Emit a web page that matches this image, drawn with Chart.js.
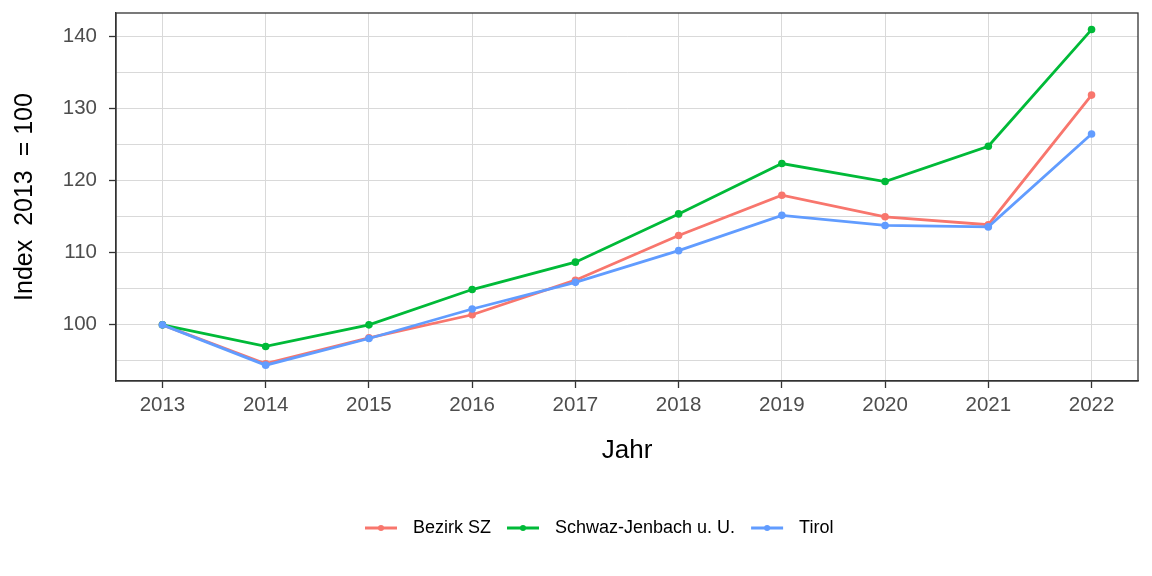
<!DOCTYPE html>
<html>
<head>
<meta charset="utf-8">
<script src="https://cdn.jsdelivr.net/npm/chart.js@4/dist/chart.umd.min.js"></script>
<style>
    html, body { margin: 0; padding: 0; background: #fff; }
    #wrap { width: 1152px; height: 576px; }
</style>
</head>
<body>
<div id="wrap"><canvas id="myChart" width="1152" height="576"></canvas></div>
<script>
const years = [2013, 2014, 2015, 2016, 2017, 2018, 2019, 2020, 2021, 2022]
const bezirkSZ = [100, 94.6, 98.2, 101.4, 106.2, 112.4, 118.0, 115.0, 113.9, 131.9]
const schwazJenbach = [100, 97.0, 100.0, 104.9, 108.7, 115.4, 122.4, 119.9, 124.8, 141.0]
const tirol = [100, 94.4, 98.1, 102.2, 105.9, 110.3, 115.2, 113.8, 113.6, 126.5]
const yTicks = [95, 100, 105, 110, 115, 120, 125, 130, 135, 140]
const seriesNames = ['Bezirk SZ', 'Schwaz-Jenbach u. U.', 'Tirol']
const seriesColors = ['#F8766D', '#00BA38', '#619CFF']

const FONT = '"Liberation Sans", Arial, sans-serif'

const toPoints = (values) => values.map((v, i) => ({ x: years[i], y: v }))

const lineStyle = {
    fill: false,
    tension: 0,
    borderWidth: 2.8,
    pointRadius: 3.8,
    pointBorderWidth: 0,
    pointHoverRadius: 3.8
}

const panelBorder = {
    id: 'panelBorder',
    afterDatasetsDraw(chart) {
        const { ctx, chartArea: a } = chart
        ctx.save()
        ctx.strokeStyle = '#333333'
        ctx.lineWidth = 1.3
        ctx.strokeRect(a.left, a.top, a.right - a.left, a.bottom - a.top)
        ctx.restore()
    }
}

// legend drawn below the axis title, like the ggplot bottom legend
const bottomLegend = {
    id: 'bottomLegend',
    afterDraw(chart) {
        const ctx = chart.ctx
        const y = 528
        let x = 365
        ctx.save()
        ctx.font = '18px ' + FONT
        ctx.textBaseline = 'middle'
        ctx.textAlign = 'left'
        seriesNames.forEach((name, i) => {
            ctx.strokeStyle = seriesColors[i]
            ctx.fillStyle = seriesColors[i]
            ctx.lineWidth = 3
            ctx.beginPath()
            ctx.moveTo(x, y)
            ctx.lineTo(x + 32, y)
            ctx.stroke()
            ctx.beginPath()
            ctx.arc(x + 16, y, 3, 0, Math.PI * 2)
            ctx.fill()
            ctx.fillStyle = '#000000'
            ctx.fillText(name, x + 48, y)
            x += 48 + ctx.measureText(name).width + 16
        })
        ctx.restore()
    }
}

const ctx = document.getElementById('myChart')
new Chart(ctx, {
    type: 'line',
    data: {
        datasets: [
            { label: seriesNames[0], data: toPoints(bezirkSZ), borderColor: seriesColors[0], backgroundColor: seriesColors[0], order: 3, ...lineStyle },
            { label: seriesNames[1], data: toPoints(schwazJenbach), borderColor: seriesColors[1], backgroundColor: seriesColors[1], order: 2, ...lineStyle },
            { label: seriesNames[2], data: toPoints(tirol), borderColor: seriesColors[2], backgroundColor: seriesColors[2], order: 1, ...lineStyle },
        ]
    },
    options: {
        responsive: false,
        animation: false,
        devicePixelRatio: 1,
        layout: { padding: { left: 0, top: 13, right: 14, bottom: 110 } },
        plugins: {
            legend: { display: false },
            tooltip: { enabled: false }
        },
        scales: {
            x: {
                type: 'linear',
                min: 2012.55,
                max: 2022.45,
                afterBuildTicks: (s) => { s.ticks = years.map(v => ({ value: v })) },
                afterFit: (s) => {
                    s.height = 85
                    s.paddingLeft = 0
                    s.paddingRight = 0
                },
                ticks: {
                    callback: (v) => String(v),
                    autoSkip: false,
                    maxRotation: 0,
                    font: { family: FONT, size: 20.5 },
                    color: '#4d4d4d',
                    padding: 5
                },
                grid: { color: '#d9d9d9', lineWidth: 1, tickColor: '#333333', tickLength: 7, tickWidth: 1.3 },
                border: { display: true, color: '#333333', width: 1.3 },
                title: {
                    display: true,
                    text: 'Jahr',
                    color: '#000000',
                    font: { family: FONT, size: 26 },
                    padding: { top: 0, bottom: 0 }
                }
            },
            y: {
                min: 92.2,
                max: 143.3,
                afterBuildTicks: (s) => { s.ticks = yTicks.map(v => ({ value: v })) },
                afterFit: (s) => {
                    s.width = 116
                    s.paddingTop = 0
                    s.paddingBottom = 0
                },
                ticks: {
                    callback: (v) => (v % 10 === 0 ? String(v) : ''),
                    font: { family: FONT, size: 20.5 },
                    color: '#4d4d4d',
                    padding: 12
                },
                grid: {
                    color: '#d9d9d9',
                    lineWidth: 1,
                    tickColor: (c) => (c.tick && c.tick.value % 10 === 0 ? '#333333' : 'rgba(0,0,0,0)'),
                    tickLength: 7,
                    tickWidth: 1.3
                },
                border: { display: true, color: '#333333', width: 1.3 },
                title: {
                    display: true,
                    text: 'Index  2013  = 100',
                    color: '#000000',
                    font: { family: FONT, size: 25 },
                    padding: { top: 10, bottom: 0 }
                }
            }
        }
    },
    plugins: [panelBorder, bottomLegend]
})
</script>
</body>
</html>
